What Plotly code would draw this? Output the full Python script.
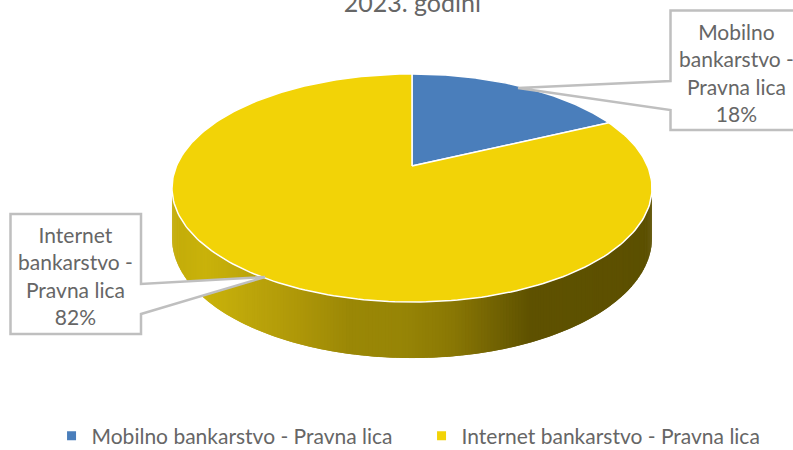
import numpy as np
import plotly.graph_objects as go

categories = ["Mobilno bankarstvo - Pravna lica", "Internet bankarstvo - Pravna lica"]
label_lines = [["Mobilno", "bankarstvo -", "Pravna lica"], ["Internet", "bankarstvo -", "Pravna lica"]]
shares = [18, 82]
colors = ["#4a7ebb", "#f2d307"]
title_text = "2023. godini"

FONT = "Lato"
TEXT = "#666666"
CX, CY, AX, AY, K, DEPTH = 412, 166, 235.5, 109.8, 0.193, 56
stop_x = [172, 205, 260, 300, 350, 400, 450, 500, 530, 652]
stop_c = [(195, 172, 10), (201, 178, 10), (185, 162, 10), (173, 150, 8), (154, 135, 6),
          (151, 133, 6), (138, 120, 4), (110, 95, 2), (94, 81, 0), (92, 80, 0)]


def project(theta):
    X, Y = np.sin(theta), np.cos(theta)
    d = 1 + K * Y
    return CX + AX * X / d, CY - AY * Y / d


def depth(theta):
    Y = np.cos(theta)
    return DEPTH * (1 - 0.14 * (1 + Y))


fig = go.Figure()

# side wall: lower part of the rim, between the two widest points
t0 = np.pi - np.arccos(K)
edge = np.linspace(t0, 2 * np.pi - t0, 241)
for i in range(len(edge) - 1):
    a, b = edge[i], edge[min(i + 2, len(edge) - 1)]
    xa, ya = project(a)
    xb, yb = project(b)
    xs = [xa, xb, xb, xa]
    ys = [ya, yb, yb + depth(b), ya + depth(a)]
    xm = (xa + xb) / 2
    rgb = [float(np.interp(xm, stop_x, [c[j] for c in stop_c])) for j in range(3)]
    col = "rgb(%d,%d,%d)" % tuple(round(v) for v in rgb)
    fig.add_trace(go.Scatter(x=xs, y=ys, mode="lines", fill="toself", fillcolor=col,
                             line=dict(width=0), hoverinfo="skip", showlegend=False))

# top face
total = sum(shares)
start = 0.0
for name, share, color in zip(categories, shares, colors):
    end = start + 2 * np.pi * share / total
    th = np.linspace(start, end, 240)
    px, py = project(th)
    fig.add_trace(go.Scatter(x=[CX, *px, CX], y=[CY, *py, CY], mode="lines", fill="toself",
                             fillcolor=color, line=dict(color="white", width=1.5),
                             name=name, hoverinfo="skip", showlegend=False))
    start = end

# legend entries
for name, color, lw in zip(categories, colors, [325, 300]):
    fig.add_trace(go.Scatter(x=[None], y=[None], mode="markers", name=name, legendwidth=lw,
                             marker=dict(symbol="square", size=9, color=color)))

# callouts
callouts = [
    dict(path="M 670.5 10.5 H 800 V 130 H 670.5 V 110 L 518 88 L 670.5 81 Z", cx=736, cy=72),
    dict(path="M 10.5 214 H 141 V 284 L 265 277 L 141 314 V 334 H 10.5 Z", cx=75, cy=275),
]
for c, lines, share in zip(callouts, label_lines, shares):
    fig.add_shape(type="path", path=c["path"], xref="x", yref="y", fillcolor="white",
                  line=dict(color="#bfbfbf", width=2.5), layer="above")
    fig.add_annotation(x=c["cx"], y=c["cy"], xref="x", yref="y", showarrow=False,
                       text="<br>".join(lines + [f"{share}%"]), align="center",
                       font=dict(family=FONT, size=21, color=TEXT))

fig.update_layout(
    width=793, height=450, margin=dict(l=0, r=0, t=0, b=0, autoexpand=False),
    paper_bgcolor="white", plot_bgcolor="white",
    title=dict(text=title_text, x=0.52, xanchor="center", y=0.993, yanchor="middle",
               font=dict(family=FONT, size=25, color=TEXT)),
    xaxis=dict(range=[0, 793], visible=False, fixedrange=True),
    yaxis=dict(range=[450, 0], visible=False, fixedrange=True),
    legend=dict(orientation="h", x=0.065, xanchor="left", y=0.031, yanchor="middle",
                font=dict(family=FONT, size=21, color=TEXT), itemwidth=30,
                bgcolor="rgba(0,0,0,0)"),
)
fig.write_html("out.html", config={"displayModeBar": False},
               post_script="document.body.style.margin='0';")
